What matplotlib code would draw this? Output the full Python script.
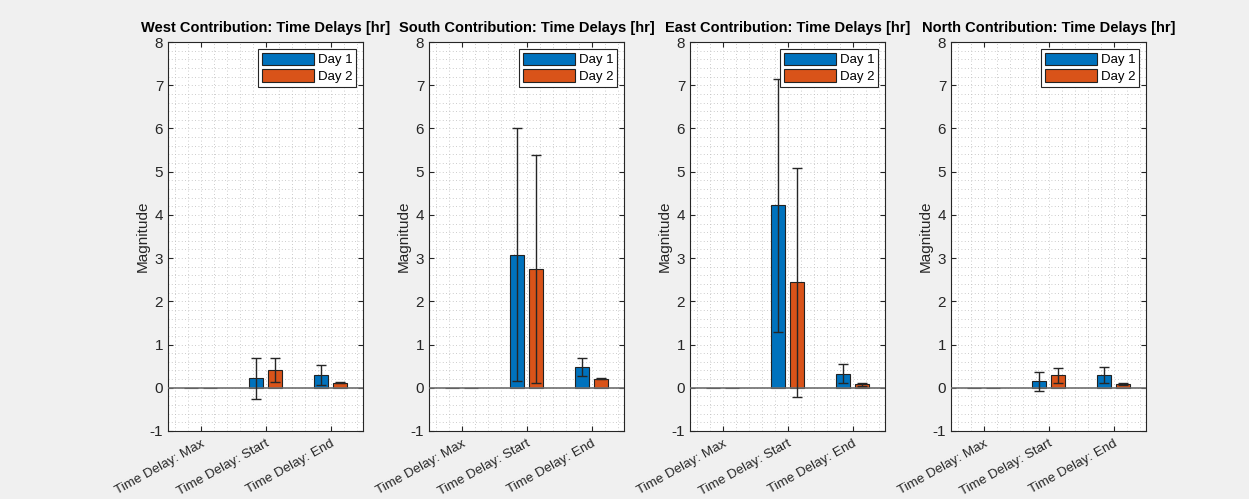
import matplotlib
matplotlib.use("Agg")
import matplotlib.pyplot as plt
import numpy as np
from matplotlib.ticker import MultipleLocator

plt.rcParams['font.family'] = ['Liberation Sans', 'DejaVu Sans']
plt.rcParams['axes.unicode_minus'] = False

BLUE = "#0072BD"
ORANGE = "#D95319"
TEXT = "#262626"

categories = ["Time Delay: Max", "Time Delay: Start", "Time Delay: End"]
titles = ["West Contribution: Time Delays [hr]", "South Contribution: Time Delays [hr]",
          "East Contribution: Time Delays [hr]", "North Contribution: Time Delays [hr]"]

# means per direction, order: Max, Start, End
day1 = [
    [0.0, 0.22, 0.29],   # West
    [0.0, 3.08, 0.48],   # South
    [0.0, 4.22, 0.32],   # East
    [0.0, 0.15, 0.30],   # North
]
day2 = [
    [0.0, 0.41, 0.12],
    [0.0, 2.74, 0.21],
    [0.0, 2.44, 0.08],
    [0.0, 0.29, 0.08],
]
# standard deviations (nan = none)
err1 = [
    [np.nan, 0.47, 0.23],
    [np.nan, 2.93, 0.21],
    [np.nan, 2.93, 0.22],
    [np.nan, 0.22, 0.19],
]
err2 = [
    [np.nan, 0.27, 0.02],
    [np.nan, 2.64, 0.01],
    [np.nan, 2.65, 0.03],
    [np.nan, 0.17, 0.02],
]

fig = plt.figure(figsize=(12.49, 4.99), dpi=100)
fig.patch.set_facecolor("#F0F0F0")

lefts = [168, 429, 690, 951]
x = np.arange(1, len(categories) + 1)
offset = 0.143
width = 0.22

for i in range(4):
    ax = fig.add_axes([lefts[i] / 1249, 68 / 499, 195 / 1249, 389 / 499])
    ax.set_facecolor("white")
    ax.bar(x - offset, day1[i], width, color=BLUE, edgecolor="#222222", linewidth=0.8,
           label="Day 1", zorder=3)
    ax.bar(x + offset, day2[i], width, color=ORANGE, edgecolor="#222222", linewidth=0.8,
           label="Day 2", zorder=3)
    ax.errorbar(x - offset, day1[i], yerr=err1[i], fmt="none", ecolor="#262626",
                elinewidth=1.0, capsize=3.8, capthick=1.0, zorder=4)
    ax.errorbar(x + offset, day2[i], yerr=err2[i], fmt="none", ecolor="#262626",
                elinewidth=1.0, capsize=3.8, capthick=1.0, zorder=4)
    ax.axhline(0, color="#6E6E6E", linewidth=1.2, zorder=3.5)

    ax.set_xlim(0.5, 3.5)
    ax.set_ylim(-1, 8)
    ax.set_xticks(x)
    ax.set_xticklabels(categories, rotation=29, ha="right", rotation_mode="anchor",
                       fontsize=9.6, color=TEXT)
    ax.set_yticks(range(-1, 9))
    ax.tick_params(axis="y", labelsize=11, labelcolor=TEXT)
    ax.tick_params(axis="x", pad=5)
    ax.xaxis.set_minor_locator(MultipleLocator(0.2))
    ax.yaxis.set_minor_locator(MultipleLocator(0.2))
    ax.tick_params(which="both", direction="in", top=True, right=True, color="#262626")
    ax.tick_params(which="minor", length=0)
    ax.tick_params(which="major", length=3.5)
    ax.grid(which="both", linestyle=(0, (1, 3)), color="#BBBBBB", linewidth=0.6, zorder=0)
    ax.set_axisbelow(True)
    for s in ax.spines.values():
        s.set_color("#262626")
        s.set_linewidth(0.8)

    ax.set_ylabel("Magnitude", fontsize=11, color=TEXT, labelpad=0)
    ax.set_title(titles[i], fontsize=10.5, fontweight="bold", pad=7)
    leg = ax.legend(loc="upper right", fontsize=9.5, handlelength=3.9, handleheight=1.1,
                    fancybox=False, framealpha=1, edgecolor="#262626",
                    borderpad=0.3, labelspacing=0.2, handletextpad=0.3,
                    borderaxespad=0.5)
    leg.get_frame().set_linewidth(0.8)

fig.savefig("out.png", dpi=100, facecolor=fig.get_facecolor())
